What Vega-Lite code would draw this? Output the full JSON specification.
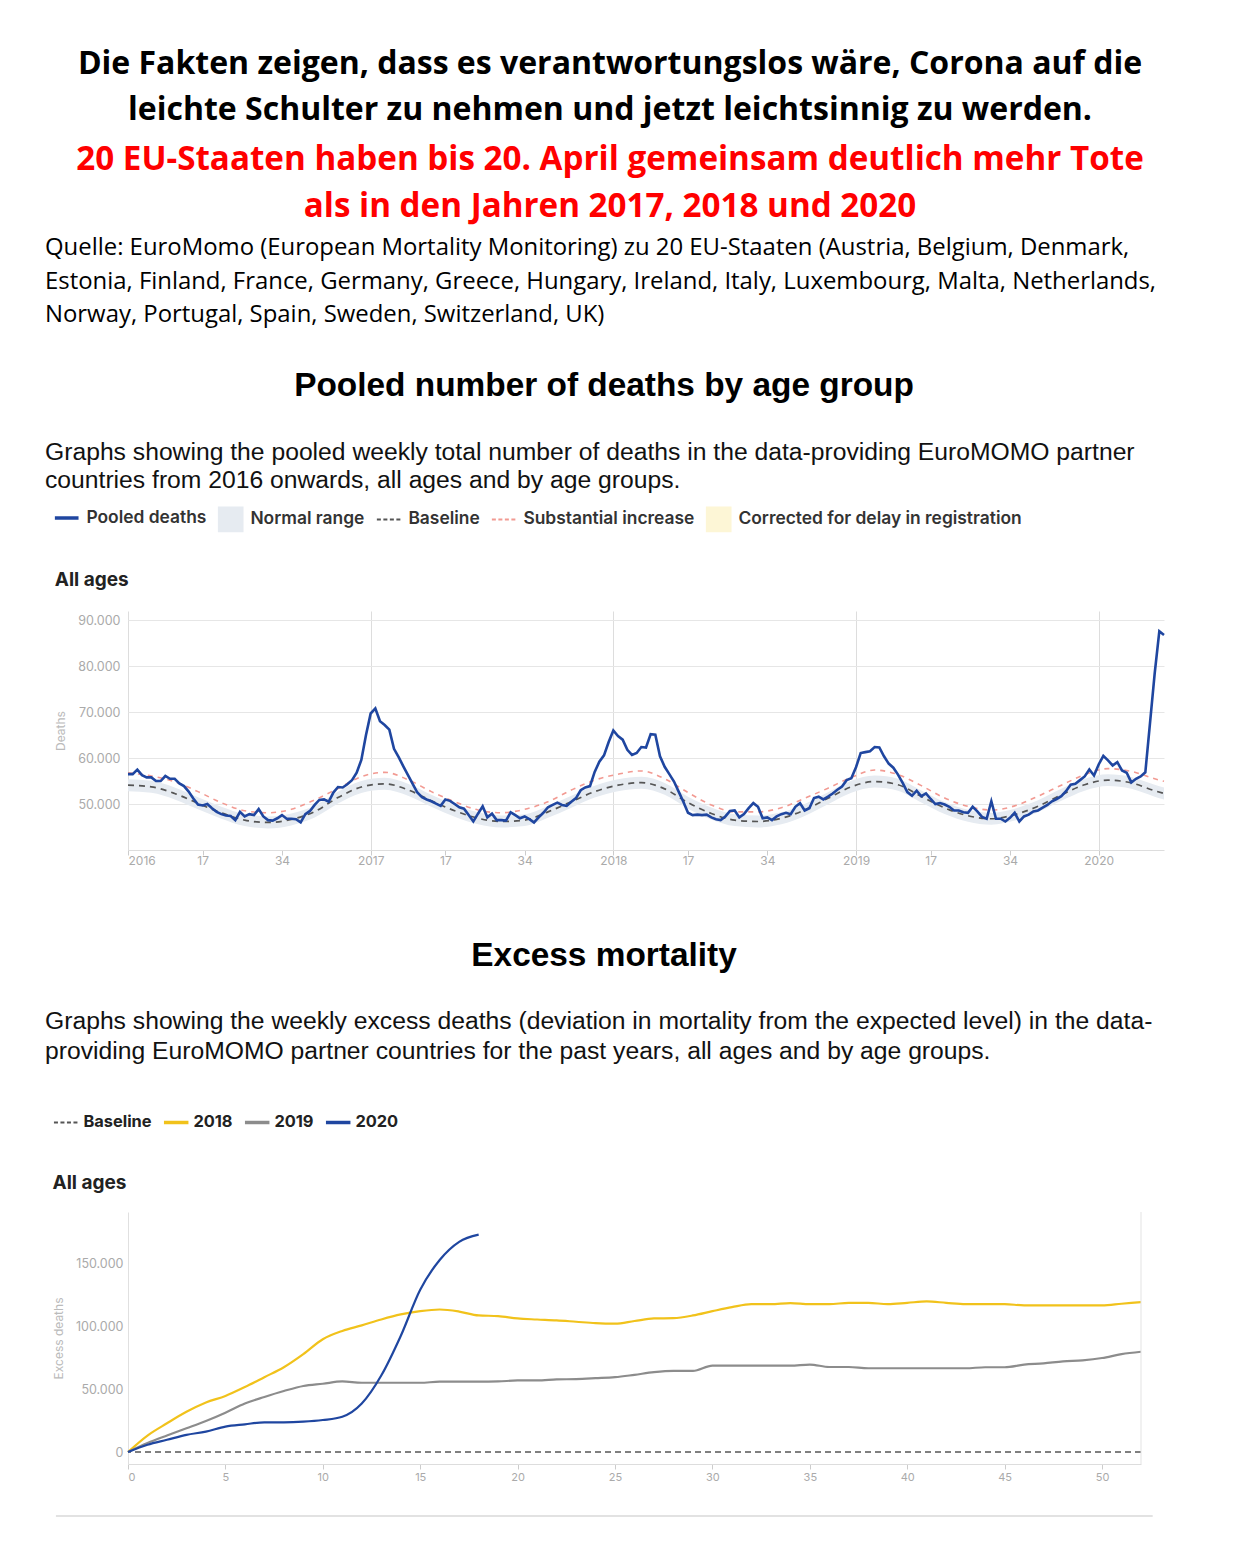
{
  "$schema": "https://vega.github.io/schema/vega-lite/v6.json",
  "background": "white",
  "padding": {"left": 45, "top": 47, "right": 10, "bottom": 10},
  "bounds": "flush",
  "spacing": 0,
  "resolve": {"scale": {"color": "independent", "x": "independent", "y": "independent"}, "legend": {"color": "independent"}},
  "config": {
    "view": {"stroke": null},
    "axis": {"labelFont": "Inter", "titleFont": "Inter"},
    "legend": {"labelFont": "Inter", "labelLimit": 500}
  },
  "datasets": {
    "pooled": [
      {"t":0,"deaths":56500},{"t":1,"deaths":56500},{"t":2,"deaths":57500},{"t":3,"deaths":56300},{"t":4,"deaths":55800},{"t":5,"deaths":55800},{"t":6,"deaths":55000},{"t":7,"deaths":55000},{"t":8,"deaths":56100},{"t":9,"deaths":55500},
      {"t":10,"deaths":55500},{"t":11,"deaths":54500},{"t":12,"deaths":53900},{"t":13,"deaths":52700},{"t":14,"deaths":51200},{"t":15,"deaths":49900},{"t":16,"deaths":49700},{"t":17,"deaths":50000},{"t":18,"deaths":49100},{"t":19,"deaths":48300},
      {"t":20,"deaths":47800},{"t":21,"deaths":47500},{"t":22,"deaths":47400},{"t":23,"deaths":46500},{"t":24,"deaths":48300},{"t":25,"deaths":47300},{"t":26,"deaths":47800},{"t":27,"deaths":47600},{"t":28,"deaths":48900},{"t":29,"deaths":47300},
      {"t":30,"deaths":46500},{"t":31,"deaths":46400},{"t":32,"deaths":46900},{"t":33,"deaths":47600},{"t":34,"deaths":46800},{"t":35,"deaths":46800},{"t":36,"deaths":46700},{"t":37,"deaths":46000},{"t":38,"deaths":47800},{"t":39,"deaths":48500},
      {"t":40,"deaths":49800},{"t":41,"deaths":50900},{"t":42,"deaths":51000},{"t":43,"deaths":50500},{"t":44,"deaths":52500},{"t":45,"deaths":53700},{"t":46,"deaths":53600},{"t":47,"deaths":54300},{"t":48,"deaths":55200},{"t":49,"deaths":56800},
      {"t":50,"deaths":59600},{"t":51,"deaths":65000},{"t":52,"deaths":69700},{"t":53,"deaths":70800},{"t":54,"deaths":68000},{"t":55,"deaths":67200},{"t":56,"deaths":66200},{"t":57,"deaths":62000},{"t":58,"deaths":60200},{"t":59,"deaths":58200},
      {"t":60,"deaths":56300},{"t":61,"deaths":54400},{"t":62,"deaths":52500},{"t":63,"deaths":51500},{"t":64,"deaths":51000},{"t":65,"deaths":50600},{"t":66,"deaths":50100},{"t":67,"deaths":49600},{"t":68,"deaths":51000},{"t":69,"deaths":50700},
      {"t":70,"deaths":50000},{"t":71,"deaths":49300},{"t":72,"deaths":49000},{"t":73,"deaths":47600},{"t":74,"deaths":46200},{"t":75,"deaths":47900},{"t":76,"deaths":49500},{"t":77,"deaths":47100},{"t":78,"deaths":47900},{"t":79,"deaths":46500},
      {"t":80,"deaths":46500},{"t":81,"deaths":46400},{"t":82,"deaths":48200},{"t":83,"deaths":47600},{"t":84,"deaths":46900},{"t":85,"deaths":47300},{"t":86,"deaths":46700},{"t":87,"deaths":46000},{"t":88,"deaths":47100},{"t":89,"deaths":48100},
      {"t":90,"deaths":49300},{"t":91,"deaths":49800},{"t":92,"deaths":50300},{"t":93,"deaths":49800},{"t":94,"deaths":49600},{"t":95,"deaths":50500},{"t":96,"deaths":51300},{"t":97,"deaths":53000},{"t":98,"deaths":53600},{"t":99,"deaths":53900},
      {"t":100,"deaths":57000},{"t":101,"deaths":59200},{"t":102,"deaths":60600},{"t":103,"deaths":63500},{"t":104,"deaths":66000},{"t":105,"deaths":64800},{"t":106,"deaths":64000},{"t":107,"deaths":61800},{"t":108,"deaths":60700},{"t":109,"deaths":61100},
      {"t":110,"deaths":62400},{"t":111,"deaths":62300},{"t":112,"deaths":65200},{"t":113,"deaths":65100},{"t":114,"deaths":60400},{"t":115,"deaths":58100},{"t":116,"deaths":56500},{"t":117,"deaths":54900},{"t":118,"deaths":52700},{"t":119,"deaths":50500},
      {"t":120,"deaths":48100},{"t":121,"deaths":47600},{"t":122,"deaths":47700},{"t":123,"deaths":47600},{"t":124,"deaths":47700},{"t":125,"deaths":47100},{"t":126,"deaths":46700},{"t":127,"deaths":46500},{"t":128,"deaths":47300},{"t":129,"deaths":48500},
      {"t":130,"deaths":48600},{"t":131,"deaths":47100},{"t":132,"deaths":47800},{"t":133,"deaths":49100},{"t":134,"deaths":50200},{"t":135,"deaths":49400},{"t":136,"deaths":46900},{"t":137,"deaths":47100},{"t":138,"deaths":46500},{"t":139,"deaths":47300},
      {"t":140,"deaths":47800},{"t":141,"deaths":48100},{"t":142,"deaths":47800},{"t":143,"deaths":49400},{"t":144,"deaths":50200},{"t":145,"deaths":48600},{"t":146,"deaths":49100},{"t":147,"deaths":51300},{"t":148,"deaths":51600},{"t":149,"deaths":51000},
      {"t":150,"deaths":51600},{"t":151,"deaths":52300},{"t":152,"deaths":53100},{"t":153,"deaths":53800},{"t":154,"deaths":55200},{"t":155,"deaths":55600},{"t":156,"deaths":58000},{"t":157,"deaths":61100},{"t":158,"deaths":61300},{"t":159,"deaths":61500},
      {"t":160,"deaths":62400},{"t":161,"deaths":62300},{"t":162,"deaths":60400},{"t":163,"deaths":58800},{"t":164,"deaths":57900},{"t":165,"deaths":56400},{"t":166,"deaths":54600},{"t":167,"deaths":52600},{"t":168,"deaths":51800},{"t":169,"deaths":52900},
      {"t":170,"deaths":51700},{"t":171,"deaths":52300},{"t":172,"deaths":51100},{"t":173,"deaths":50000},{"t":174,"deaths":50200},{"t":175,"deaths":49900},{"t":176,"deaths":49400},{"t":177,"deaths":48600},{"t":178,"deaths":48600},{"t":179,"deaths":48200},
      {"t":180,"deaths":48100},{"t":181,"deaths":49400},{"t":182,"deaths":48400},{"t":183,"deaths":47200},{"t":184,"deaths":46800},{"t":185,"deaths":50600},{"t":186,"deaths":46800},{"t":187,"deaths":46800},{"t":188,"deaths":46200},{"t":189,"deaths":47000},
      {"t":190,"deaths":48100},{"t":191,"deaths":46200},{"t":192,"deaths":47300},{"t":193,"deaths":47700},{"t":194,"deaths":48400},{"t":195,"deaths":48600},{"t":196,"deaths":49200},{"t":197,"deaths":49800},{"t":198,"deaths":50600},{"t":199,"deaths":51100},
      {"t":200,"deaths":51700},{"t":201,"deaths":52800},{"t":202,"deaths":54200},{"t":203,"deaths":54400},{"t":204,"deaths":55200},{"t":205,"deaths":56000},{"t":206,"deaths":57500},{"t":207,"deaths":56200},{"t":208,"deaths":58600},{"t":209,"deaths":60500},
      {"t":210,"deaths":59500},{"t":211,"deaths":58400},{"t":212,"deaths":59100},{"t":213,"deaths":57300},{"t":214,"deaths":56800},{"t":215,"deaths":54700},{"t":216,"deaths":55500},{"t":217,"deaths":56000},{"t":218,"deaths":56900},{"t":219,"deaths":67600},
      {"t":220,"deaths":78400},{"t":221,"deaths":87600},{"t":222,"deaths":86800}
    ],
    "base": [
      {"t":0,"baseline":54100,"subst":56800,"lower":52800,"upper":55400},
      {"t":5,"baseline":53750,"subst":56100,"lower":52450,"upper":55050},
      {"t":10,"baseline":52300,"subst":54850,"lower":51000,"upper":53600},
      {"t":15,"baseline":50150,"subst":52700,"lower":48850,"upper":51450},
      {"t":20,"baseline":48100,"subst":50300,"lower":46800,"upper":49400},
      {"t":25,"baseline":46500,"subst":48550,"lower":45200,"upper":47800},
      {"t":30,"baseline":46000,"subst":48100,"lower":44700,"upper":47300},
      {"t":35,"baseline":46650,"subst":48850,"lower":45350,"upper":47950},
      {"t":40,"baseline":48350,"subst":50900,"lower":47050,"upper":49650},
      {"t":45,"baseline":51400,"subst":53400,"lower":50100,"upper":52700},
      {"t":50,"baseline":53700,"subst":55950,"lower":52400,"upper":55000},
      {"t":55,"baseline":54400,"subst":56900,"lower":53100,"upper":55700},
      {"t":60,"baseline":53100,"subst":55300,"lower":51800,"upper":54400},
      {"t":65,"baseline":50700,"subst":52700,"lower":49400,"upper":52000},
      {"t":70,"baseline":48550,"subst":50500,"lower":47250,"upper":49850},
      {"t":75,"baseline":46900,"subst":48700,"lower":45600,"upper":48200},
      {"t":80,"baseline":46200,"subst":48100,"lower":44900,"upper":47500},
      {"t":85,"baseline":46500,"subst":48850,"lower":45200,"upper":47800},
      {"t":90,"baseline":48300,"subst":50500,"lower":47000,"upper":49600},
      {"t":95,"baseline":50500,"subst":53050,"lower":49200,"upper":51800},
      {"t":100,"baseline":52700,"subst":55200,"lower":51400,"upper":54000},
      {"t":105,"baseline":54100,"subst":56500,"lower":52800,"upper":55400},
      {"t":110,"baseline":54650,"subst":57200,"lower":53350,"upper":55950},
      {"t":115,"baseline":53300,"subst":55500,"lower":52000,"upper":54600},
      {"t":120,"baseline":50300,"subst":52500,"lower":49000,"upper":51600},
      {"t":125,"baseline":47950,"subst":49800,"lower":46650,"upper":49250},
      {"t":130,"baseline":46500,"subst":48300,"lower":45200,"upper":47800},
      {"t":135,"baseline":46200,"subst":48300,"lower":44900,"upper":47500},
      {"t":140,"baseline":46900,"subst":49200,"lower":45600,"upper":48200},
      {"t":145,"baseline":48700,"subst":51250,"lower":47400,"upper":50000},
      {"t":150,"baseline":51250,"subst":53450,"lower":49950,"upper":52550},
      {"t":155,"baseline":53750,"subst":55800,"lower":52450,"upper":55050},
      {"t":160,"baseline":54900,"subst":57400,"lower":53600,"upper":56200},
      {"t":165,"baseline":54200,"subst":56400,"lower":52900,"upper":55500},
      {"t":170,"baseline":51650,"subst":54000,"lower":50350,"upper":52950},
      {"t":175,"baseline":49150,"subst":51300,"lower":47850,"upper":50450},
      {"t":180,"baseline":47450,"subst":49500,"lower":46150,"upper":48750},
      {"t":185,"baseline":46800,"subst":48700,"lower":45500,"upper":48100},
      {"t":190,"baseline":47700,"subst":49600,"lower":46400,"upper":49000},
      {"t":195,"baseline":49500,"subst":51700,"lower":48200,"upper":50800},
      {"t":200,"baseline":52000,"subst":54100,"lower":50700,"upper":53300},
      {"t":205,"baseline":54200,"subst":56400,"lower":52900,"upper":55500},
      {"t":210,"baseline":55200,"subst":57700,"lower":53900,"upper":56500},
      {"t":215,"baseline":54600,"subst":57100,"lower":53300,"upper":55900},
      {"t":220,"baseline":52900,"subst":55500,"lower":51600,"upper":54200},
      {"t":222,"baseline":52300,"subst":54950,"lower":51000,"upper":53600}
    ],
    "excess": [
      {"week":0,"year":"2018","excess":0},{"week":1,"year":"2018","excess":13100},{"week":2,"year":"2018","excess":22800},{"week":3,"year":"2018","excess":31900},{"week":4,"year":"2018","excess":39300},{"week":5,"year":"2018","excess":44500},{"week":6,"year":"2018","excess":51600},{"week":7,"year":"2018","excess":59400},{"week":8,"year":"2018","excess":67300},{"week":9,"year":"2018","excess":77700},
      {"week":10,"year":"2018","excess":89500},{"week":11,"year":"2018","excess":96100},{"week":12,"year":"2018","excess":100500},{"week":13,"year":"2018","excess":105200},{"week":14,"year":"2018","excess":109200},{"week":15,"year":"2018","excess":111800},{"week":16,"year":"2018","excess":113100},{"week":17,"year":"2018","excess":111500},{"week":18,"year":"2018","excess":108400},{"week":19,"year":"2018","excess":107900},
      {"week":20,"year":"2018","excess":106000},{"week":21,"year":"2018","excess":105200},{"week":22,"year":"2018","excess":104500},{"week":23,"year":"2018","excess":103400},{"week":24,"year":"2018","excess":102300},{"week":25,"year":"2018","excess":101900},{"week":26,"year":"2018","excess":104000},{"week":27,"year":"2018","excess":106000},{"week":28,"year":"2018","excess":106300},{"week":29,"year":"2018","excess":108400},
      {"week":30,"year":"2018","excess":111800},{"week":31,"year":"2018","excess":115000},{"week":32,"year":"2018","excess":117400},{"week":33,"year":"2018","excess":117400},{"week":34,"year":"2018","excess":118200},{"week":35,"year":"2018","excess":117400},{"week":36,"year":"2018","excess":117400},{"week":37,"year":"2018","excess":118400},{"week":38,"year":"2018","excess":118400},{"week":39,"year":"2018","excess":117400},
      {"week":40,"year":"2018","excess":118400},{"week":41,"year":"2018","excess":119500},{"week":42,"year":"2018","excess":118400},{"week":43,"year":"2018","excess":117400},{"week":44,"year":"2018","excess":117400},{"week":45,"year":"2018","excess":117400},{"week":46,"year":"2018","excess":116400},{"week":47,"year":"2018","excess":116400},{"week":48,"year":"2018","excess":116400},{"week":49,"year":"2018","excess":116400},
      {"week":50,"year":"2018","excess":116400},{"week":51,"year":"2018","excess":117700},{"week":52,"year":"2018","excess":119000},
      {"week":0,"year":"2019","excess":0},{"week":1,"year":"2019","excess":7100},{"week":2,"year":"2019","excess":13100},{"week":3,"year":"2019","excess":18800},{"week":4,"year":"2019","excess":24600},{"week":5,"year":"2019","excess":31200},{"week":6,"year":"2019","excess":38500},{"week":7,"year":"2019","excess":43700},{"week":8,"year":"2019","excess":48400},{"week":9,"year":"2019","excess":52400},
      {"week":10,"year":"2019","excess":54200},{"week":11,"year":"2019","excess":56000},{"week":12,"year":"2019","excess":55000},{"week":13,"year":"2019","excess":55000},{"week":14,"year":"2019","excess":55000},{"week":15,"year":"2019","excess":55000},{"week":16,"year":"2019","excess":55800},{"week":17,"year":"2019","excess":55800},{"week":18,"year":"2019","excess":55800},{"week":19,"year":"2019","excess":56000},
      {"week":20,"year":"2019","excess":56800},{"week":21,"year":"2019","excess":56800},{"week":22,"year":"2019","excess":57600},{"week":23,"year":"2019","excess":57900},{"week":24,"year":"2019","excess":58600},{"week":25,"year":"2019","excess":59400},{"week":26,"year":"2019","excess":61300},{"week":27,"year":"2019","excess":63400},{"week":28,"year":"2019","excess":64400},{"week":29,"year":"2019","excess":64400},
      {"week":30,"year":"2019","excess":68600},{"week":31,"year":"2019","excess":68600},{"week":32,"year":"2019","excess":68600},{"week":33,"year":"2019","excess":68600},{"week":34,"year":"2019","excess":68600},{"week":35,"year":"2019","excess":69400},{"week":36,"year":"2019","excess":67500},{"week":37,"year":"2019","excess":67500},{"week":38,"year":"2019","excess":66500},{"week":39,"year":"2019","excess":66500},
      {"week":40,"year":"2019","excess":66500},{"week":41,"year":"2019","excess":66500},{"week":42,"year":"2019","excess":66500},{"week":43,"year":"2019","excess":66500},{"week":44,"year":"2019","excess":67300},{"week":45,"year":"2019","excess":67300},{"week":46,"year":"2019","excess":69400},{"week":47,"year":"2019","excess":70400},{"week":48,"year":"2019","excess":72000},{"week":49,"year":"2019","excess":72800},
      {"week":50,"year":"2019","excess":74600},{"week":51,"year":"2019","excess":77700},{"week":52,"year":"2019","excess":79600},
      {"week":0,"year":"2020","excess":0},{"week":1,"year":"2020","excess":5800},{"week":2,"year":"2020","excess":9700},{"week":3,"year":"2020","excess":13600},{"week":4,"year":"2020","excess":16200},{"week":5,"year":"2020","excess":20200},{"week":6,"year":"2020","excess":22000},{"week":7,"year":"2020","excess":23600},{"week":8,"year":"2020","excess":23600},{"week":9,"year":"2020","excess":24100},
      {"week":10,"year":"2020","excess":25400},{"week":11,"year":"2020","excess":28000},{"week":12,"year":"2020","excess":38500},{"week":13,"year":"2020","excess":60700},{"week":14,"year":"2020","excess":92100},{"week":15,"year":"2020","excess":128800},{"week":16,"year":"2020","excess":152400},{"week":17,"year":"2020","excess":166800},{"week":18,"year":"2020","excess":172500}
    ]
  },
  "vconcat": [
    {
      "width": 964, "height": 103,
      "data": {"values": []},
      "mark": "point",
      "title": {
        "text": ["Die Fakten zeigen, dass es verantwortungslos wäre, Corona auf die", "leichte Schulter zu nehmen und jetzt leichtsinnig zu werden."],
        "subtitle": ["20 EU-Staaten haben bis 20. April gemeinsam deutlich mehr Tote", "als in den Jahren 2017, 2018 und 2020"],
        "anchor": "middle", "frame": "group", "orient": "top", "offset": 0,
        "font": "Open Sans", "fontSize": 32, "fontWeight": "bold", "color": "#000000", "lineHeight": 46,
        "subtitleFont": "Open Sans", "subtitleFontSize": 33.2, "subtitleFontWeight": "bold", "subtitleColor": "#ff0000", "subtitleLineHeight": 47, "subtitlePadding": 17
      }
    },
    {
      "width": 964, "height": 76,
      "data": {"values": []},
      "mark": "point",
      "title": {
        "text": ["Quelle: EuroMomo (European Mortality Monitoring) zu 20 EU-Staaten (Austria, Belgium, Denmark,", "Estonia, Finland, France, Germany, Greece, Hungary, Ireland, Italy, Luxembourg, Malta, Netherlands,", "Norway, Portugal, Spain, Sweden, Switzerland, UK)"],
        "anchor": "start", "frame": "group", "orient": "top", "offset": 0, "dx": -83,
        "font": "Open Sans", "fontSize": 23.9, "fontWeight": "normal", "color": "#000000", "lineHeight": 33.5
      }
    },
    {
      "width": 964, "height": 90,
      "data": {"values": []},
      "mark": "point",
      "title": {
        "text": "Pooled number of deaths by age group",
        "anchor": "middle", "frame": "group", "orient": "top", "offset": 0, "dx": -6,
        "font": "Liberation Sans", "fontSize": 33.4, "fontWeight": "bold", "color": "#000000"
      }
    },
    {
      "width": 964, "height": 118,
      "data": {"values": []},
      "mark": "point",
      "title": {
        "text": ["Graphs showing the pooled weekly total number of deaths in the data-providing EuroMOMO partner", "countries from 2016 onwards, all ages and by age groups."],
        "anchor": "start", "frame": "group", "orient": "top", "offset": 0, "dx": -83,
        "font": "Liberation Sans", "fontSize": 24.7, "fontWeight": "normal", "color": "#111111", "lineHeight": 28
      }
    },
    {
      "width": 1036, "height": 239,
      "title": {
        "text": "All ages", "anchor": "start", "frame": "bounds", "orient": "top", "offset": -81,
        "font": "Inter", "fontSize": 19, "fontWeight": "bold", "color": "#222222"
      },
      "layer": [
        {
          "data": {"name": "base"},
          "mark": {"type": "area", "interpolate": "monotone", "opacity": 1},
          "encoding": {
            "x": {"field": "t", "type": "quantitative", "scale": {"domain": [0, 222], "nice": false, "zero": false},
              "axis": {"title": null, "values": [0, 16, 33, 52, 68, 85, 104, 120, 137, 156, 172, 189, 208],
                "labelExpr": "datum.value % 52 === 0 ? '' + (2016 + datum.value / 52) : (datum.value % 52 === 16 ? '17' : '34')",
                "grid": true, "gridColor": {"condition": {"test": "datum.value % 52 === 0", "value": "#dddddd"}, "value": "rgba(0,0,0,0)"},
                "domainColor": "#dddddd", "tickColor": "#cccccc", "tickSize": 5, "labelColor": "#aaaaaa", "labelFontSize": 12, "labelPadding": 0}},
            "y": {"field": "lower", "type": "quantitative", "title": "Deaths", "scale": {"domain": [40000, 92000], "nice": false, "zero": false},
              "axis": {"title": "Deaths", "values": [50000, 60000, 70000, 80000, 90000], "labelExpr": "replace(format(datum.value, ','), ',', '.')",
                "domain": false, "ticks": false, "gridColor": "#e6e6e6", "labelColor": "#aaaaaa", "labelFontSize": 12.5, "labelPadding": 8,
                "titleColor": "#bbbbbb", "titleFontSize": 12, "titleFontWeight": "normal", "titlePadding": 10}},
            "y2": {"field": "upper"},
            "color": {"datum": "Normal range", "type": "nominal",
              "scale": {"domain": ["Pooled deaths", "Normal range", "Baseline", "Substantial increase", "Corrected for delay in registration"],
                "range": ["#1f46a0", "#e6ebf1", "#555555", "#f29a92", "#fdf6d6"]},
              "legend": {
                "orient": "none", "legendX": -70, "legendY": -102, "direction": "horizontal", "title": null,
                "labelFont": "Inter", "labelFontSize": 17.4, "labelFontWeight": 600, "labelColor": "#333333", "labelLimit": 500,
                "labelOffset": 11, "columnPadding": 7, "symbolSize": 560, "symbolType": "stroke",
                "encode": {"symbols": {"update": {
                  "shape": {"signal": "(datum.value === 'Normal range' || datum.value === 'Corrected for delay in registration') ? 'square' : 'M-1,-1M-1,0H1M1,1'"},
                  "size": {"value": 560},
                  "fill": {"signal": "datum.value === 'Normal range' ? '#e6ebf1' : (datum.value === 'Corrected for delay in registration' ? '#fdf6d6' : 'transparent')"},
                  "stroke": {"signal": "datum.value === 'Pooled deaths' ? '#1f46a0' : (datum.value === 'Baseline' ? '#555555' : (datum.value === 'Substantial increase' ? '#f29a92' : 'transparent'))"},
                  "strokeDash": {"signal": "(datum.value === 'Baseline' || datum.value === 'Substantial increase') ? [4, 2.5] : [1, 0]"},
                  "strokeWidth": {"signal": "datum.value === 'Pooled deaths' ? 3.5 : 2"},
                  "opacity": {"value": 1}
                }}}
              }}
          }
        },
        {
          "data": {"name": "base"},
          "mark": {"type": "line", "interpolate": "monotone", "strokeDash": [6, 5], "strokeWidth": 1.7},
          "encoding": {
            "x": {"field": "t", "type": "quantitative"},
            "y": {"field": "baseline", "type": "quantitative", "title": "Deaths"},
            "color": {"datum": "Baseline", "type": "nominal",
              "legend": {
                "orient": "none", "legendX": -70, "legendY": -102, "direction": "horizontal", "title": null,
                "labelFont": "Inter", "labelFontSize": 17.4, "labelFontWeight": 600, "labelColor": "#333333", "labelLimit": 500,
                "labelOffset": 11, "columnPadding": 7, "symbolSize": 560, "symbolType": "stroke",
                "encode": {"symbols": {"update": {
                  "shape": {"signal": "(datum.value === 'Normal range' || datum.value === 'Corrected for delay in registration') ? 'square' : 'M-1,-1M-1,0H1M1,1'"},
                  "size": {"value": 560},
                  "fill": {"signal": "datum.value === 'Normal range' ? '#e6ebf1' : (datum.value === 'Corrected for delay in registration' ? '#fdf6d6' : 'transparent')"},
                  "stroke": {"signal": "datum.value === 'Pooled deaths' ? '#1f46a0' : (datum.value === 'Baseline' ? '#555555' : (datum.value === 'Substantial increase' ? '#f29a92' : 'transparent'))"},
                  "strokeDash": {"signal": "(datum.value === 'Baseline' || datum.value === 'Substantial increase') ? [4, 2.5] : [1, 0]"},
                  "strokeWidth": {"signal": "datum.value === 'Pooled deaths' ? 3.5 : 2"},
                  "opacity": {"value": 1}
                }}}
              }}
          }
        },
        {
          "data": {"name": "base"},
          "mark": {"type": "line", "interpolate": "monotone", "strokeDash": [5, 5], "strokeWidth": 1.6},
          "encoding": {
            "x": {"field": "t", "type": "quantitative"},
            "y": {"field": "subst", "type": "quantitative", "title": "Deaths"},
            "color": {"datum": "Substantial increase", "type": "nominal",
              "legend": {
                "orient": "none", "legendX": -70, "legendY": -102, "direction": "horizontal", "title": null,
                "labelFont": "Inter", "labelFontSize": 17.4, "labelFontWeight": 600, "labelColor": "#333333", "labelLimit": 500,
                "labelOffset": 11, "columnPadding": 7, "symbolSize": 560, "symbolType": "stroke",
                "encode": {"symbols": {"update": {
                  "shape": {"signal": "(datum.value === 'Normal range' || datum.value === 'Corrected for delay in registration') ? 'square' : 'M-1,-1M-1,0H1M1,1'"},
                  "size": {"value": 560},
                  "fill": {"signal": "datum.value === 'Normal range' ? '#e6ebf1' : (datum.value === 'Corrected for delay in registration' ? '#fdf6d6' : 'transparent')"},
                  "stroke": {"signal": "datum.value === 'Pooled deaths' ? '#1f46a0' : (datum.value === 'Baseline' ? '#555555' : (datum.value === 'Substantial increase' ? '#f29a92' : 'transparent'))"},
                  "strokeDash": {"signal": "(datum.value === 'Baseline' || datum.value === 'Substantial increase') ? [4, 2.5] : [1, 0]"},
                  "strokeWidth": {"signal": "datum.value === 'Pooled deaths' ? 3.5 : 2"},
                  "opacity": {"value": 1}
                }}}
              }}
          }
        },
        {
          "data": {"name": "pooled"},
          "mark": {"type": "line", "strokeWidth": 2.6},
          "encoding": {
            "x": {"field": "t", "type": "quantitative"},
            "y": {"field": "deaths", "type": "quantitative", "title": "Deaths"},
            "color": {"datum": "Pooled deaths", "type": "nominal",
              "legend": {
                "orient": "none", "legendX": -70, "legendY": -102, "direction": "horizontal", "title": null,
                "labelFont": "Inter", "labelFontSize": 17.4, "labelFontWeight": 600, "labelColor": "#333333", "labelLimit": 500,
                "labelOffset": 11, "columnPadding": 7, "symbolSize": 560, "symbolType": "stroke",
                "encode": {"symbols": {"update": {
                  "shape": {"signal": "(datum.value === 'Normal range' || datum.value === 'Corrected for delay in registration') ? 'square' : 'M-1,-1M-1,0H1M1,1'"},
                  "size": {"value": 560},
                  "fill": {"signal": "datum.value === 'Normal range' ? '#e6ebf1' : (datum.value === 'Corrected for delay in registration' ? '#fdf6d6' : 'transparent')"},
                  "stroke": {"signal": "datum.value === 'Pooled deaths' ? '#1f46a0' : (datum.value === 'Baseline' ? '#555555' : (datum.value === 'Substantial increase' ? '#f29a92' : 'transparent'))"},
                  "strokeDash": {"signal": "(datum.value === 'Baseline' || datum.value === 'Substantial increase') ? [4, 2.5] : [1, 0]"},
                  "strokeWidth": {"signal": "datum.value === 'Pooled deaths' ? 3.5 : 2"},
                  "opacity": {"value": 1}
                }}}
              }}
          }
        }
      ]
    },
    {
      "width": 964, "height": 123,
      "data": {"values": []},
      "mark": "point"
    },
    {
      "width": 964, "height": 91,
      "data": {"values": []},
      "mark": "point",
      "title": {
        "text": "Excess mortality",
        "anchor": "middle", "frame": "group", "orient": "top", "offset": 0, "dx": -6,
        "font": "Liberation Sans", "fontSize": 33.4, "fontWeight": "bold", "color": "#000000"
      }
    },
    {
      "width": 964, "height": 148,
      "data": {"values": []},
      "mark": "point",
      "title": {
        "text": ["Graphs showing the weekly excess deaths (deviation in mortality from the expected level) in the data-", "providing EuroMOMO partner countries for the past years, all ages and by age groups."],
        "anchor": "start", "frame": "group", "orient": "top", "offset": 0, "dx": -83,
        "font": "Liberation Sans", "fontSize": 24.7, "fontWeight": "normal", "color": "#111111", "lineHeight": 30
      }
    },
    {
      "width": 1013, "height": 252,
      "title": {
        "text": "All ages", "anchor": "start", "frame": "bounds", "orient": "top", "offset": -79,
        "font": "Inter", "fontSize": 19, "fontWeight": "bold", "color": "#222222"
      },
      "layer": [
        {
          "data": {"values": [{}]},
          "mark": {"type": "rule", "strokeDash": [6, 4], "strokeWidth": 1.6},
          "encoding": {
            "y": {"datum": 0, "type": "quantitative", "scale": {"domain": [-9500, 190500], "nice": false, "zero": false}},
            "color": {"datum": "Baseline", "type": "nominal",
              "scale": {"domain": ["Baseline", "2018", "2019", "2020"], "range": ["#555555", "#f1c21b", "#8c8c8c", "#1f46a0"]},
              "legend": {
                "orient": "none", "legendX": -70, "legendY": -98, "direction": "horizontal", "title": null,
                "labelFont": "Inter", "labelFontSize": 16.4, "labelFontWeight": "bold", "labelColor": "#222222",
                "labelOffset": 9, "columnPadding": 4, "symbolSize": 600, "symbolType": "stroke",
                "encode": {"symbols": {"update": {
                  "shape": {"value": "stroke"},
                  "fill": {"value": "transparent"},
                  "stroke": {"signal": "datum.value === 'Baseline' ? '#555555' : (datum.value === '2018' ? '#f1c21b' : (datum.value === '2019' ? '#8c8c8c' : '#1f46a0'))"},
                  "strokeDash": {"signal": "datum.value === 'Baseline' ? [4, 2.5] : [1, 0]"},
                  "strokeWidth": {"signal": "datum.value === 'Baseline' ? 2 : 3.5"},
                  "opacity": {"value": 1}
                }}}
              }}
          }
        },
        {
          "data": {"name": "excess"},
          "mark": {"type": "line", "interpolate": "monotone", "strokeWidth": 2.2},
          "encoding": {
            "x": {"field": "week", "type": "quantitative", "scale": {"domain": [0, 52], "nice": false, "zero": false},
              "axis": {"title": null, "values": [0, 5, 10, 15, 20, 25, 30, 35, 40, 45, 50], "grid": false,
                "domainColor": "#dddddd", "tickColor": "#cccccc", "tickSize": 5, "labelColor": "#aaaaaa", "labelFontSize": 11, "labelPadding": 2}},
            "y": {"field": "excess", "type": "quantitative", "title": "Excess deaths", "scale": {"domain": [-9500, 190500], "nice": false, "zero": false},
              "axis": {"title": "Excess deaths", "values": [0, 50000, 100000, 150000], "labelExpr": "replace(format(datum.value, ','), ',', '.')",
                "domain": true, "domainColor": "#e0e0e0", "ticks": false, "gridColor": "#e6e6e6", "labelColor": "#aaaaaa", "labelFontSize": 12.5, "labelPadding": 5,
                "titleColor": "#bbbbbb", "titleFontSize": 12, "titleFontWeight": "normal", "titlePadding": 10}},
            "color": {"field": "year", "type": "nominal",
              "legend": {
                "orient": "none", "legendX": -70, "legendY": -98, "direction": "horizontal", "title": null,
                "labelFont": "Inter", "labelFontSize": 16.4, "labelFontWeight": "bold", "labelColor": "#222222",
                "labelOffset": 9, "columnPadding": 4, "symbolSize": 600, "symbolType": "stroke",
                "encode": {"symbols": {"update": {
                  "shape": {"value": "stroke"},
                  "fill": {"value": "transparent"},
                  "stroke": {"signal": "datum.value === 'Baseline' ? '#555555' : (datum.value === '2018' ? '#f1c21b' : (datum.value === '2019' ? '#8c8c8c' : '#1f46a0'))"},
                  "strokeDash": {"signal": "datum.value === 'Baseline' ? [4, 2.5] : [1, 0]"},
                  "strokeWidth": {"signal": "datum.value === 'Baseline' ? 2 : 3.5"},
                  "opacity": {"value": 1}
                }}}
              }}
          }
        },
        {
          "data": {"values": [{}]},
          "mark": {"type": "rule", "color": "#e3e3e3", "strokeWidth": 1},
          "encoding": {"x": {"datum": 52, "type": "quantitative"}}
        },
        {
          "data": {"values": [{}]},
          "mark": {"type": "rule", "color": "#d9d9d9", "strokeWidth": 1.5},
          "encoding": {
            "x": {"datum": -3.7, "type": "quantitative"},
            "x2": {"datum": 52.6},
            "y": {"datum": -50800, "type": "quantitative"}
          }
        }
      ]
    }
  ]
}
